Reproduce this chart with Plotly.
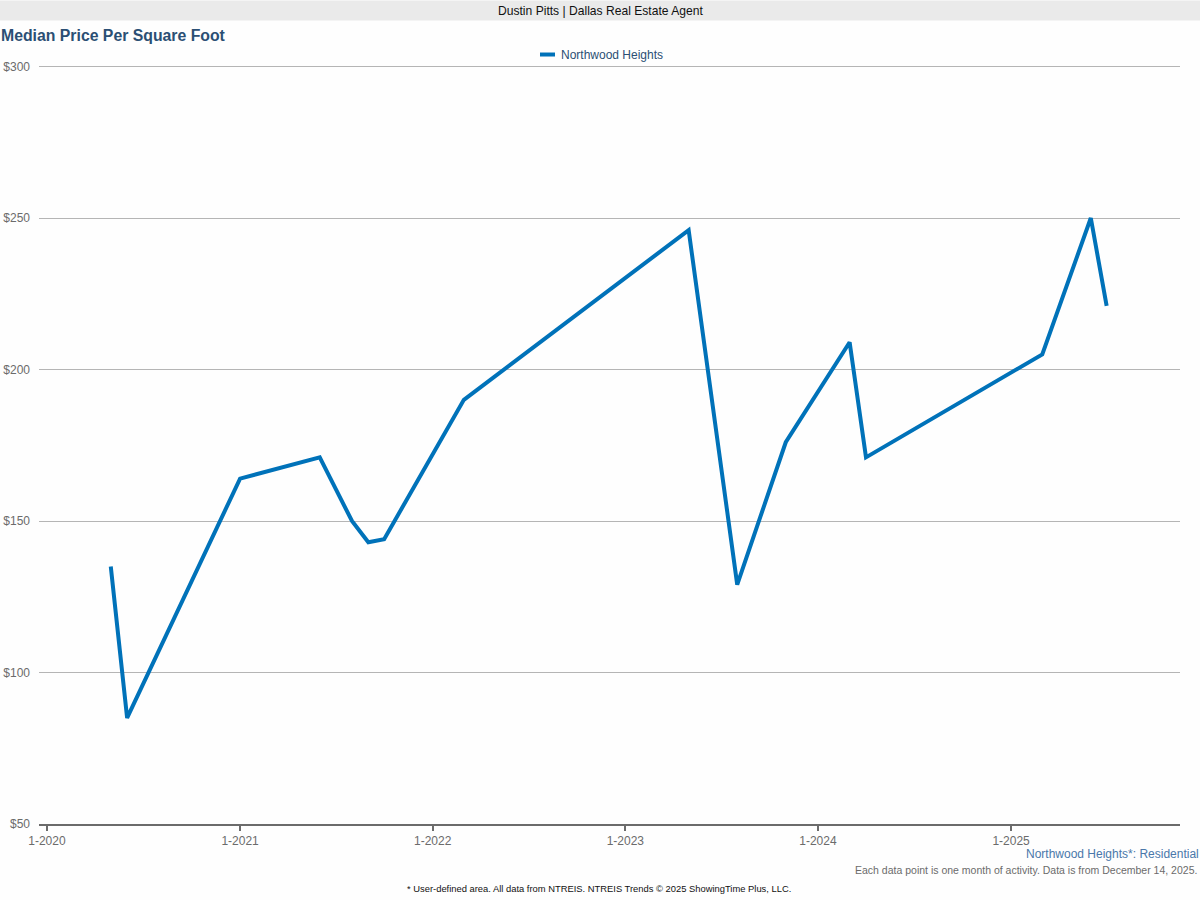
import plotly.graph_objects as go

# Data (monthly median price per sq ft, months with activity)
months = ["2020-05-01", "2020-06-01", "2021-01-01", "2021-06-01", "2021-08-01",
          "2021-09-01", "2021-10-01", "2022-03-01", "2023-05-01", "2023-08-01",
          "2023-11-01", "2024-03-01", "2024-04-01", "2025-03-01", "2025-06-01",
          "2025-07-01"]
price_per_sqft = [135, 85, 164, 171, 150, 143, 144, 190, 246, 129, 176, 209, 171, 205, 250, 221]

tick_dates = ["2020-01-01", "2021-01-01", "2022-01-01", "2023-01-01", "2024-01-01", "2025-01-01"]
tick_labels = ["1-2020", "1-2021", "1-2022", "1-2023", "1-2024", "1-2025"]
y_ticks = [50, 100, 150, 200, 250, 300]
y_tick_labels = ["$50", "$100", "$150", "$200", "$250", "$300"]

W, H = 1200, 900
L, R, T, B = 39, 20, 64.5, 75.5
PW, PH = W - L - R, H - T - B

def px(x):
    return (x - L) / PW

def py(y):
    return (H - B - y) / PH

FONT = "Liberation Sans, Arial, sans-serif"
BLUE = "#0072b9"
NAVY = "#2b4f74"

fig = go.Figure()
fig.add_trace(go.Scatter(x=months, y=price_per_sqft, mode="lines",
                         line=dict(color=BLUE, width=4), name="Northwood Heights",
                         showlegend=False, connectgaps=True))

fig.update_layout(
    width=W, height=H,
    margin=dict(l=L, r=R, t=T, b=B, autoexpand=False),
    paper_bgcolor="#fefefe", plot_bgcolor="#fefefe",
    font=dict(family=FONT, color="#666666", size=12),
    showlegend=False,
    xaxis=dict(range=["2019-12-17", "2025-11-17"], tickvals=tick_dates, ticktext=tick_labels,
               showgrid=False, showline=True, linecolor="#6b6b6b", linewidth=2,
               ticks="outside", ticklen=5, tickwidth=2, tickcolor="#6b6b6b",
               tickfont=dict(size=12, color="#6b6b6b"), zeroline=False, automargin=False),
    yaxis=dict(range=[50, 300.5], tickvals=y_ticks, ticktext=y_tick_labels,
               showgrid=True, gridcolor="#b5b5b5", gridwidth=1, zeroline=False,
               showline=False, ticks="", tickfont=dict(size=12, color="#6b6b6b"),
               ticklabelstandoff=8, automargin=False),
)

# Header bar
fig.add_shape(type="rect", xref="paper", yref="paper",
              x0=px(0), x1=px(W), y0=py(20), y1=py(0),
              fillcolor="#eaeaea", line=dict(width=0), layer="below")
fig.add_annotation(text="Dustin Pitts | Dallas Real Estate Agent", xref="paper", yref="paper",
                   x=px(600), y=py(10.5), xanchor="center", yanchor="middle", showarrow=False,
                   font=dict(size=12.1, color="#111111", family=FONT))

# Title
fig.add_annotation(text="<b>Median Price Per Square Foot</b>", xref="paper", yref="paper",
                   x=px(-1), y=py(35), xanchor="left", yanchor="middle", showarrow=False,
                   font=dict(size=15.8, color=NAVY, family=FONT))

# Legend (manual)
fig.add_shape(type="line", xref="paper", yref="paper",
              x0=px(540), x1=px(555), y0=py(54), y1=py(54),
              line=dict(color=BLUE, width=4))
fig.add_annotation(text="Northwood Heights", xref="paper", yref="paper",
                   x=px(559), y=py(54), xanchor="left", yanchor="middle", showarrow=False,
                   font=dict(size=12, color=NAVY, family=FONT))

# Bottom notes
fig.add_annotation(text="Northwood Heights*: Residential", xref="paper", yref="paper",
                   x=px(1201), y=py(855), xanchor="right", yanchor="middle", showarrow=False,
                   font=dict(size=12, color="#4a78aa", family=FONT))
fig.add_annotation(text="Each data point is one month of activity. Data is from December 14, 2025.",
                   xref="paper", yref="paper",
                   x=px(1199), y=py(871), xanchor="right", yanchor="middle", showarrow=False,
                   font=dict(size=10.5, color="#6b6b6b", family=FONT))
fig.add_annotation(text="* User-defined area. All data from NTREIS. NTREIS Trends © 2025 ShowingTime Plus, LLC.",
                   xref="paper", yref="paper",
                   x=px(599), y=py(889), xanchor="center", yanchor="middle", showarrow=False,
                   font=dict(size=9.4, color="#111111", family=FONT))

fig.write_html("out.html", config={"displayModeBar": False},
               post_script="document.body.style.margin='0';document.body.style.overflow='hidden';")
